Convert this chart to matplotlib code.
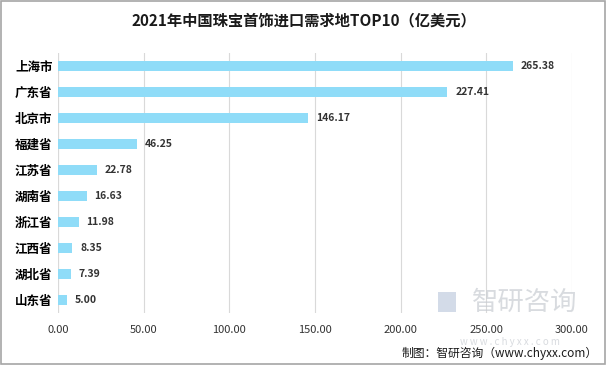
import numpy as np
import matplotlib.pyplot as plt

plt.rcParams['font.family'] = ['Noto Sans CJK SC', 'DejaVu Sans']

# 数据
provinces = ['上海市', '广东省', '北京市', '福建省', '江苏省', '湖南省', '浙江省', '江西省', '湖北省', '山东省']
values = [265.38, 227.41, 146.17, 46.25, 22.78, 16.63, 11.98, 8.35, 7.39, 5.00]
xticks = [0, 50, 100, 150, 200, 250, 300]

fig = plt.figure(figsize=(6.07, 3.65), dpi=100)
fig.patches.append(plt.Rectangle((0.002, 0.003), 0.995, 0.994, transform=fig.transFigure,
                                 fill=False, edgecolor='#a6a6a6', lw=1.2))
ax = fig.add_axes([0.0956, 0.1425, 0.8464, 0.7125])

y = np.arange(len(provinces))
ax.barh(y, values, height=0.4, color='#8fdcf8', zorder=3)
for yi, v in zip(y, values):
    ax.text(v + 4.5, yi, f'{v:.2f}', va='center', ha='left', fontsize=7.5,
            fontweight='bold', color='#333333', zorder=4)

ax.set_ylim(len(provinces) - 0.5, -0.5)
ax.set_yticks(y)
ax.set_yticklabels(provinces, fontsize=9, fontweight='bold')
ax.set_xlim(0, 300)
ax.set_xticks(xticks)
ax.set_xticklabels([f'{t:.2f}' for t in xticks], fontsize=8, color='#333333')
ax.tick_params(axis='both', length=0)
ax.tick_params(axis='x', pad=9)
ax.tick_params(axis='y', pad=4)
ax.grid(axis='x', color='#d9d9d9', lw=0.8, zorder=0)
for s in ax.spines.values():
    s.set_visible(False)
ax.axvline(0, color='#d9d9d9', lw=0.8, zorder=1)

fig.text(0.5, 0.945, '2021年中国珠宝首饰进口需求地TOP10（亿美元）', ha='center', va='center',
         fontsize=11, fontweight='bold', color='#1a1a1a')

# 水印
fig.patches.append(plt.Rectangle((0.722, 0.145), 0.03, 0.055, transform=fig.transFigure,
                                 facecolor='#c9d3e3', edgecolor='none', alpha=0.8, zorder=0))
fig.text(0.865, 0.172, '智研咨询', ha='center', va='center', fontsize=19,
         color='#c8ccd2', alpha=0.7, zorder=0)
fig.text(0.84, 0.062, 'w w w . c h y x x . c o m', ha='center', va='center', fontsize=7,
         color='#c8ccd2', alpha=0.7, zorder=0)

fig.text(0.985, 0.033, '制图：智研咨询（www.chyxx.com）', ha='right', va='center',
         fontsize=8.5, color='#1a1a1a')

fig.savefig('out.png', dpi=100)
